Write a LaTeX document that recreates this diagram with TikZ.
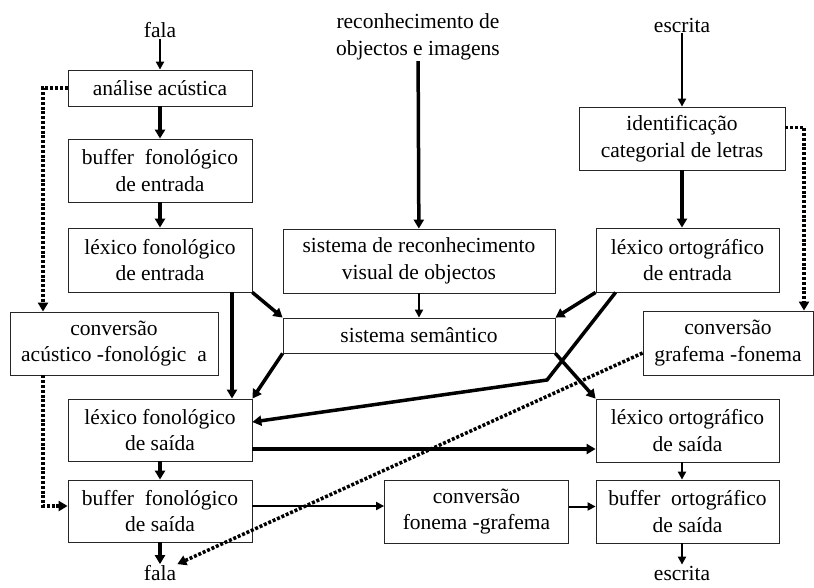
\documentclass[tikz,border=0pt]{standalone}
\usepackage{fontspec}
\setmainfont{Liberation Serif}
\usetikzlibrary{arrows.meta,positioning}
\tikzset{
  box/.style 2 args={draw=black!85, line width=0.8pt, minimum width=#1, minimum height=#2, inner sep=0pt, align=center},
  lbl/.style={inner sep=1pt, align=center},
  thickarr/.style={line width=3.5pt, -{Triangle[length=9pt,width=10pt]}},
  thinarr/.style={line width=2pt, -{Triangle[length=8pt,width=8pt]}},
  dotarr/.style={line width=3.5pt, dash pattern=on 3pt off 1.8pt, -{Triangle[length=9pt,width=10pt]}}
}

\begin{document}
\begin{tikzpicture}[x=1pt, y=-1pt, font=\fontsize{21.5}{26.5}\selectfont]
    \useasboundingbox (0,0) rectangle (814,587);
    \node[lbl] (falain) at (160,30) {fala};
    \node[lbl] (recon) at (418,37) {reconhecimento de\\objectos e imagens};
    \node[lbl] (escin) at (682,25) {escrita};
    \node[box={184pt}{36pt}] (analise) at (160,88) {análise acústica};
    \node[box={184pt}{63pt}] (bufin) at (160,170.5) {buffer\ \ fonológico\\de entrada};
    \node[box={184pt}{64pt}] (lexfin) at (160,260) {léxico fonológico\\de entrada};
    \node[box={208pt}{63pt}] (convaf) at (114,343.5) {conversão\\acústico -fonológic\ \ a};
    \node[box={184pt}{62pt}] (lexfout) at (160,430) {léxico fonológico\\de saída};
    \node[box={184pt}{62pt}] (buffout) at (160,511) {buffer\ \ fonológico\\de saída};
    \node[box={272pt}{64pt}] (visual) at (419,261) {sistema de reconhecimento\\visual de objectos};
    \node[box={272pt}{35pt}] (sem) at (419,335.5) {sistema semântico};
    \node[box={206pt}{63pt}] (ident) at (682,138.5) {identificação\\categorial de letras};
    \node[box={183pt}{64pt}] (lexoe) at (687.5,260) {léxico ortográfico\\de entrada};
    \node[box={170pt}{64pt}] (convgf) at (728,343) {conversão\\grafema -fonema};
    \node[box={183pt}{63pt}] (lexos) at (687.5,430.5) {léxico ortográfico\\de saída};
    \node[box={184pt}{63pt}] (convfg) at (476.5,511.5) {conversão\\fonema -grafema};
    \node[box={183pt}{63pt}] (bufos) at (687.5,511.5) {buffer\ \ ortográfico\\de saída};
    \node[lbl] (falaout) at (160,573) {fala};
    \node[lbl] (escout) at (682,573) {escrita};
    \coordinate (kink) at (547,380);

    \draw[thinarr] (falain) -- (analise);
    \draw[thickarr] (analise) -- (bufin);
    \draw[thickarr] (bufin) -- (lexfin);
    \draw[thickarr] ([xshift=72pt]lexfin.south) -- ([xshift=72pt]lexfout.north);
    \draw[thickarr] (lexfin.south east) -- (sem.north west);
    \draw[thickarr] (sem.south west) -- (lexfout.north east);
    \draw[thickarr] (lexfout) -- (buffout);
    \draw[thickarr] ([yshift=-19pt]lexfout.east) -- ([yshift=-19pt]lexfout.east -| lexos.west);
    \draw[thinarr] ([yshift=5pt]buffout.east) -- ([yshift=5pt]buffout.east -| convfg.west);
    \draw[thinarr] ([yshift=5pt]convfg.east) -- ([yshift=5pt]convfg.east -| bufos.west);
    \draw[thickarr] (buffout) -- (falaout);
    \draw[thickarr] (recon) -- (visual);
    \draw[thinarr] (visual) -- (sem);
    \draw[thinarr] (escin) -- (ident);
    \draw[thickarr] (ident) -- (lexoe.north -| ident);
    \draw[thickarr] (lexoe.south west) -- (sem.north east);
    \draw[thickarr] ([xshift=20pt]lexoe.south west) -- (kink) -- ([yshift=8pt]lexfout.east);
    \draw[thickarr] (sem.south east) -- (lexos.north west);
    \draw[thinarr] (lexos.south -| ident) -- (bufos.north -| ident);
    \draw[thinarr] (bufos.south -| ident) -- (escout);

    \draw[dotarr] (analise.west) -| ([xshift=-71pt]convaf.north);
    \draw[dotarr] ([xshift=-71pt]convaf.south) |- ([yshift=5pt]buffout.west);
    \draw[dotarr] ([yshift=11pt]ident.east) -| ([xshift=76pt]convgf.north);
    \draw[dotarr] ([yshift=-10pt]convgf.west) -- (falaout.north east);
\end{tikzpicture}
\end{document}
